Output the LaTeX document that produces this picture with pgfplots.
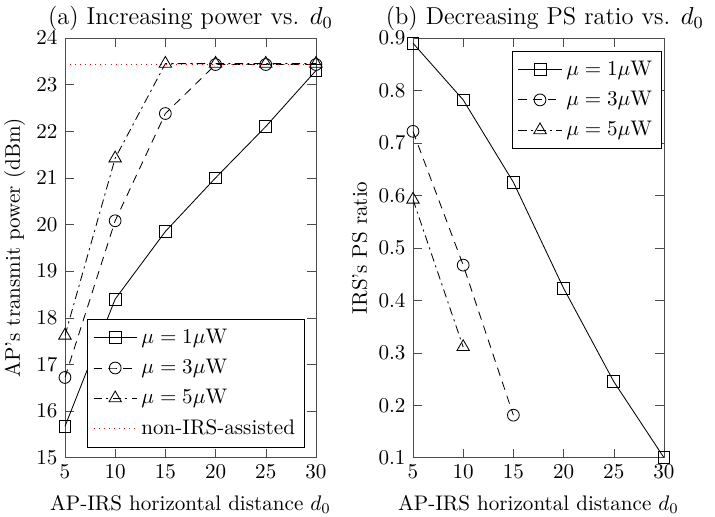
\documentclass[border=0pt]{standalone}
\usepackage{fix-cm}
\usepackage{pgfplots}
\pgfplotsset{compat=1.18}
\begin{document}
\begin{tikzpicture}
\pgfplotsset{
  every axis/.append style={
    scale only axis, width=119pt, height=199pt,
    xmin=5, xmax=30, xtick={5,10,...,30},
    tick align=inside, tick pos=both,
    axis line style={black!70}, tick style={black!70},
    xlabel={AP-IRS horizontal distance $d_0$},
    xlabel style={yshift=-1pt},
    ylabel style={yshift=-1.5pt},
    title style={font=\fontsize{11.6}{13.5}\selectfont, yshift=-6pt},
    legend cell align=left,
    legend style={draw=black, row sep=2pt, inner sep=2.5pt},
    legend image code/.code={\draw[mark repeat=2,mark phase=2] plot coordinates {(0cm,0cm) (0.36cm,0cm) (0.72cm,0cm)};},
    every axis plot/.append style={black, thin},
  },
  s1/.style={solid, mark=square, mark size=2.8pt, mark options={solid}},
  s3/.style={dashed, dash pattern=on 4pt off 3pt, mark=o, mark size=2.8pt, mark options={solid}},
  s5/.style={dash pattern=on 4pt off 2pt on 1pt off 2pt, mark=triangle, mark size=3.4pt, mark options={solid}},
}
\begin{axis}[
  name=A,
  ymin=15, ymax=24, ytick={15,16,...,24},
  ylabel={AP's transmit power (dBm)},
  title={(a) Increasing power vs. $d_0$},
  legend style={at={(0.956,0.024)}, anchor=south east},
]
\addplot[s1] coordinates {(5,15.67) (10,18.4) (15,19.85) (20,21.0) (25,22.1) (30,23.3)};
\addlegendentry{$\mu=1\mu$W}
\addplot[s3] coordinates {(5,16.72) (10,20.08) (15,22.38) (20,23.43) (25,23.43) (30,23.43)};
\addlegendentry{$\mu=3\mu$W}
\addplot[s5] coordinates {(5,17.62) (10,21.42) (15,23.45) (20,23.45) (25,23.45) (30,23.45)};
\addlegendentry{$\mu=5\mu$W}
\addplot[red, dotted, no marks] coordinates {(5,23.43) (30,23.43)};
\addlegendentry{non-IRS-assisted}
\end{axis}
\begin{axis}[
  name=B,
  xshift=165pt,
  ymin=0.1, ymax=0.9, ytick={0.1,0.2,...,0.9},
  yticklabel style={/pgf/number format/fixed, /pgf/number format/precision=1},
  ylabel={IRS's PS ratio},
  title={(b) Decreasing PS ratio vs. $d_0$},
  title style={xshift=3pt},
  legend style={at={(0.992,0.969)}, anchor=north east},
]
\addplot[s1] coordinates {(5,0.89) (10,0.782) (15,0.625) (20,0.423) (25,0.245) (30,0.1)};
\addlegendentry{$\mu=1\mu$W}
\addplot[s3] coordinates {(5,0.722) (10,0.467) (15,0.181)};
\addlegendentry{$\mu=3\mu$W}
\addplot[s5] coordinates {(5,0.592) (10,0.311)};
\addlegendentry{$\mu=5\mu$W}
\end{axis}
\pgfresetboundingbox
\path ([xshift=-30.8pt,yshift=-28pt]A.south west) rectangle ([xshift=24.2pt,yshift=18pt]B.north east);
\end{tikzpicture}
\end{document}
